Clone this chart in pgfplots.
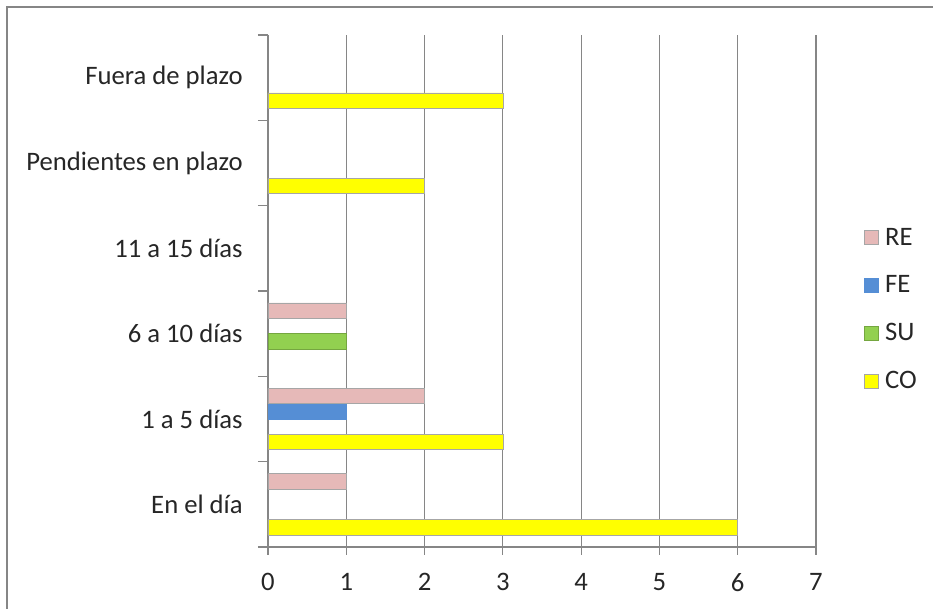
\documentclass[border=0pt]{standalone}
\usepackage{pgfplots}
\pgfplotsset{compat=1.18}
\usepackage{fontspec}
\setmainfont{Carlito}
\definecolor{cRE}{HTML}{E6B9B8}
\definecolor{cFE}{HTML}{558ED5}
\definecolor{cSU}{HTML}{92D050}
\definecolor{cCO}{HTML}{FFFF00}
\definecolor{axgray}{HTML}{868686}
\begin{document}
\begin{tikzpicture}
\path[use as bounding box] (0,0) rectangle (699.75pt,456.75pt);
\draw[axgray,line width=1.5pt] (5.25pt,0) -- (5.25pt,451.5pt) -- (699.75pt,451.5pt);
\begin{axis}[
  at={(201pt,46.5pt)}, anchor=south west,
  scale only axis, width=411pt, height=384pt,
  xbar, bar width=11.5pt,
  xmin=0, xmax=7, ymin=-0.5, ymax=5.5,
  xtick={0,...,7},
  ytick={0,...,5},
  yticklabels={En el día,1 a 5 días,6 a 10 días,11 a 15 días,Pendientes en plazo,Fuera de plazo},
  minor ytick={-0.5,0.5,...,5.5},
  axis lines*=left,
  axis line style={axgray,line width=0.9pt,-},
  tick align=outside,
  major tick length=6pt, minor tick length=7.5pt,
  xtick style={axgray,line width=0.9pt},
  major y tick style={draw=none},
  minor y tick style={draw=axgray,line width=0.9pt},
  xmajorgrids, major grid style={axgray,line width=0.9pt},
  tick label style={font=\fontsize{20}{22}\selectfont, text=black!85},
  /pgf/number format/assume math mode=true,
  yticklabel style={xshift=-9.5pt},
  xticklabel style={yshift=-10pt},
  legend style={draw=none, fill=none, font=\fontsize{20}{22}\selectfont,
    at={(1.079,0.464)}, anchor=west, row sep=17.5pt, text=black!85,
    /tikz/every odd column/.append style={column sep=3pt}},
  legend cell align=left,
  reverse legend,
  legend image code/.code={\draw[#1] (0pt,-5.4pt) rectangle (10.8pt,5.4pt);},
]
\addplot[fill=cCO, draw=black!35, bar shift=-17.25pt] coordinates {(6,0) (3,1) (2,4) (3,5)};
\addplot[fill=cSU, draw=cSU!80!black, bar shift=-5.75pt] coordinates {(1,2)};
\addplot[fill=cFE, draw=cFE, bar shift=5.75pt] coordinates {(1,1)};
\addplot[fill=cRE, draw=black!35, bar shift=17.25pt] coordinates {(1,0) (2,1) (1,2)};
\legend{CO,SU,FE,RE}
\end{axis}
\end{tikzpicture}
\end{document}
